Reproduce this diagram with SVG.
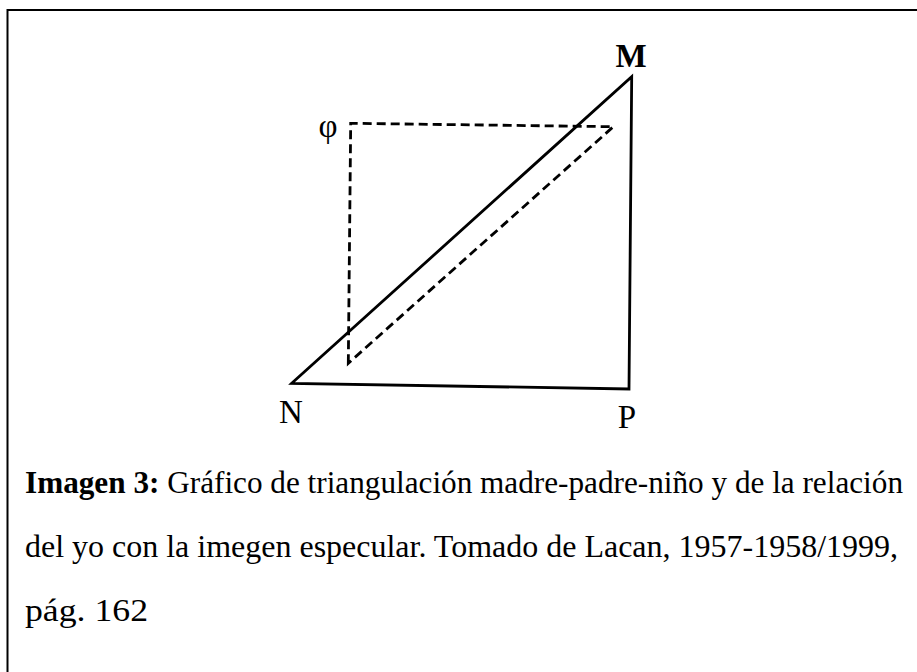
<svg xmlns="http://www.w3.org/2000/svg" width="917" height="672" viewBox="0 0 917 672">
<style>
.solid{fill:none;stroke:#000;stroke-width:2.8;stroke-linejoin:miter}
.dash{fill:none;stroke:#000;stroke-width:2.8;stroke-dasharray:9 5}
text{font-family:'Liberation Serif','Times New Roman',Times,serif;fill:#000}
.lbl{font-size:33px;text-anchor:middle}
.cap{font-size:31px}
</style>
<rect width="917" height="672" fill="#fff"/>
<path d="M7.5,672 V10 H917" fill="none" stroke="#000" stroke-width="2"/>
<g id="connectors">
<path class="solid" d="M291.7,383.3 L631.7,76.7 L629,389 Z"/>
<path class="dash" d="M348.3,363.3 L350.7,123.3 L613.3,126.7 Z"/>
</g>
<g id="node-M"><text class="lbl" x="631" y="67" font-weight="bold">M</text></g>
<g id="node-N"><text class="lbl" x="291" y="423">N</text></g>
<g id="node-P"><text class="lbl" x="627" y="428">P</text></g>
<g id="node-phi"><text class="lbl" x="328" y="137" font-size="30">φ</text></g>
<g id="caption">
<text class="cap" x="25" y="493" textLength="878" lengthAdjust="spacingAndGlyphs"><tspan font-weight="bold">Imagen 3:</tspan> Gráfico de triangulación madre-padre-niño y de la relación</text>
<text class="cap" x="25" y="557" textLength="873" lengthAdjust="spacingAndGlyphs">del yo con la imegen especular. Tomado de Lacan, 1957-1958/1999,</text>
<text class="cap" x="25" y="621" textLength="123" lengthAdjust="spacingAndGlyphs">pág. 162</text>
</g>
</svg>
